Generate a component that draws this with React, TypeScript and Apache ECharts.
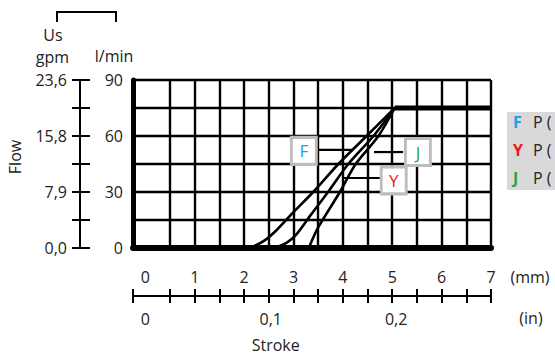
import React, { useEffect, useRef } from "react";
import * as echarts from "echarts";

// Stroke (mm) vs flow (l/min)
const curveF: number[][] = [[2.12, 0], [2.4, 3.8], [2.65, 9.4], [3.0, 19.2], [3.4, 30], [3.91, 45], [4.48, 60], [5.05, 75]];
const curveY: number[][] = [[2.59, 0], [2.85, 2.6], [3.05, 7], [3.37, 18.4], [3.7, 30], [4.11, 45], [4.62, 60], [5.05, 75]];
const curveJ: number[][] = [[3.31, 0], [3.5, 11], [3.94, 30], [4.26, 45], [4.72, 60], [5.05, 75]];
const maxFlow: number[][] = [[5.05, 75], [7, 75]];

const strokeMin = -0.25;
const strokeMax = 7;
const flowMin = 0;
const flowMax = 90;
const flowStep = 15;

const gridX = [0.5, 1, 1.5, 2, 2.5, 3, 3.5, 4, 4.5, 5, 5.5, 6, 6.5, 7];
const mmTicks = [-0.25, 0.5, 1, 1.5, 2, 2.5, 3, 3.5, 4, 4.5, 5, 5.5, 6, 6.5, 7];
const mmLabels = [0, 1, 2, 3, 4, 5, 6, 7];
const inLabels = [0, 0.1, 0.2];
const lminLabels = [0, 30, 60, 90];
const gpmLabels: Record<number, string> = { 0: "0,0", 30: "7,9", 60: "15,8", 90: "23,6" };

// annotation boxes: letter, stroke, flow, colour
const boxLetters = ["F", "J", "Y"];
const boxPos: number[][] = [[3.21, 52], [5.52, 51.4], [5.03, 36.2]];
const boxColors = ["#1f9de6", "#2e9e45", "#f01818"];
const leaders: number[][][] = [
  [[3.45, 52.6], [4.18, 52.6]],
  [[4.63, 51.4], [5.22, 51.4]],
  [[4.0, 37.5], [4.75, 37.5]],
];

const legendLetters = ["F", "Y", "J"];
const legendColors = ["#1f9de6", "#f01818", "#2e9e45"];
const legendTexts = ["P (", "P (", "P ("];

const FONT = "'Open Sans', 'Noto Sans', sans-serif";
const TXT = "#222";

export default function App() {
  const ref = useRef<HTMLDivElement>(null);
  useEffect(() => {
    if (!ref.current) return;
    const chart = echarts.init(ref.current, undefined, { renderer: "svg" });
    const lineW = 2.4;
    const curveSeries = (data: number[][]) => ({
      type: "line",
      data,
      xAxisIndex: 0,
      yAxisIndex: 0,
      symbol: "none",
      smooth: 0.3,
      lineStyle: { color: "#000", width: 2.6 },
      z: 4,
    });
    const txt = (text: string, x: number, y: number, extra: any = {}) => ({
      type: "text", x, y, ...extra,
      style: { text, fontSize: 16, lineHeight: 16, fontFamily: FONT, fill: TXT, align: "center", verticalAlign: "middle", ...(extra.style || {}) },
    });
    const option: any = {
      animation: false,
      textStyle: { fontFamily: FONT },
      grid: { left: 133, right: 64, top: 80, bottom: 108 },
      xAxis: [
        {
          type: "value", min: strokeMin, max: strokeMax, position: "bottom",
          axisLine: { onZero: false, lineStyle: { color: "#000", width: 6 } },
          axisTick: { show: false }, axisLabel: { show: false }, splitLine: { show: false },
        },
        {
          type: "value", min: strokeMin, max: strokeMax, position: "bottom", offset: 48,
          axisLine: { onZero: false, lineStyle: { color: "#000", width: 2 } },
          axisTick: { show: true, inside: true, length: 7, customValues: mmTicks, lineStyle: { color: "#000", width: 2 } },
          axisLabel: { show: true, inside: true, margin: 11, customValues: mmLabels, fontSize: 16, color: TXT, fontFamily: FONT, formatter: (v: number) => String(v) },
          splitLine: { show: false },
        },
        {
          type: "value", min: strokeMin, max: strokeMax, position: "bottom", offset: 48,
          axisLine: { show: false, onZero: false },
          axisTick: { show: true, inside: false, length: 7, customValues: mmTicks, lineStyle: { color: "#000", width: 2 } },
          axisLabel: { show: false }, splitLine: { show: false },
        },
        {
          type: "value", min: strokeMin / 25.4, max: strokeMax / 25.4, position: "bottom", offset: 48,
          axisLine: { show: false, onZero: false }, axisTick: { show: false },
          axisLabel: { show: true, margin: 15, customValues: inLabels, fontSize: 16, color: TXT, fontFamily: FONT, formatter: (v: number) => String(v).replace(".", ",") },
          splitLine: { show: false },
        },
      ],
      yAxis: [
        {
          type: "value", min: flowMin, max: flowMax, interval: flowStep, position: "left",
          axisLine: { show: true, onZero: false, lineStyle: { color: "#000", width: 5 } },
          axisTick: { show: false },
          axisLabel: { margin: 10, fontSize: 16, color: TXT, fontFamily: FONT, formatter: (v: number) => (lminLabels.includes(v) ? String(v) : "") },
          splitLine: { show: true, lineStyle: { color: "#000", width: lineW } },
        },
        {
          type: "value", min: flowMin, max: flowMax, interval: flowStep, position: "left", offset: 53,
          axisLine: { show: true, onZero: false, lineStyle: { color: "#000", width: 2 } },
          axisTick: { show: true, inside: true, length: 10, lineStyle: { color: "#000", width: 2 } },
          axisLabel: { margin: 13, fontSize: 16, color: TXT, fontFamily: FONT, formatter: (v: number) => gpmLabels[v] ?? "" },
          splitLine: { show: false },
        },
        {
          type: "value", min: flowMin, max: flowMax, interval: flowStep, position: "left", offset: 53,
          axisLine: { show: false, onZero: false },
          axisTick: { show: true, inside: false, length: 8, lineStyle: { color: "#000", width: 2 } },
          axisLabel: { show: false }, splitLine: { show: false },
        },
      ],
      series: [
        {
          type: "line", data: maxFlow, xAxisIndex: 0, yAxisIndex: 0, symbol: "none",
          lineStyle: { color: "#000", width: 5 }, z: 3,
          markLine: {
            silent: true, symbol: ["none", "none"], label: { show: false },
            lineStyle: { color: "#000", width: lineW, type: "solid" },
            data: gridX.map((v) => ({ xAxis: v })),
            z: 1,
          },
        },
        curveSeries(curveF),
        curveSeries(curveY),
        curveSeries(curveJ),
        ...leaders.map((d) => ({
          type: "line", data: d, xAxisIndex: 0, yAxisIndex: 0, symbol: "none",
          lineStyle: { color: "#000", width: 2.2 }, z: 5,
        })),
        {
          type: "scatter", xAxisIndex: 0, yAxisIndex: 0, z: 6,
          symbol: "rect", symbolSize: [25, 27],
          itemStyle: { color: "#fff", borderColor: "#bdbdbd", borderWidth: 3, opacity: 1 },
          data: boxPos.map((p, i) => ({
            value: p,
            label: { show: true, position: "inside", formatter: boxLetters[i], color: boxColors[i], fontSize: 17, fontFamily: FONT },
          })),
        },
      ],
      graphic: [
        { type: "polyline", shape: { points: [[57, 22], [57, 12], [116, 12], [116, 22]] }, style: { stroke: "#000", lineWidth: 2, fill: "none" } },
        txt("Us", 53, 34.5),
        txt("gpm", 52.5, 56.5),
        txt("l/min", 114, 56),
        txt("Flow", 14.5, 157, { rotation: Math.PI / 2 }),
        txt("(mm)", 530, 277),
        txt("(in)", 531, 318),
        txt("Stroke", 275.7, 345),
        { type: "rect", shape: { x: 507, y: 112, width: 60, height: 78 }, style: { fill: "#d9d9d9" } },
        ...legendLetters.flatMap((l, i) => [
          txt(l, 513, 122 + i * 28, { style: { fontWeight: "bold", fill: legendColors[i], align: "left" } }),
          txt(legendTexts[i], 533, 122 + i * 28, { style: { align: "left" } }),
        ]),
      ],
    };
    chart.setOption(option);
    return () => chart.dispose();
  }, []);
  return <div ref={ref} style={{ position: "fixed", left: 0, top: 0, width: 555, height: 356, background: "#fff" }} />;
}
